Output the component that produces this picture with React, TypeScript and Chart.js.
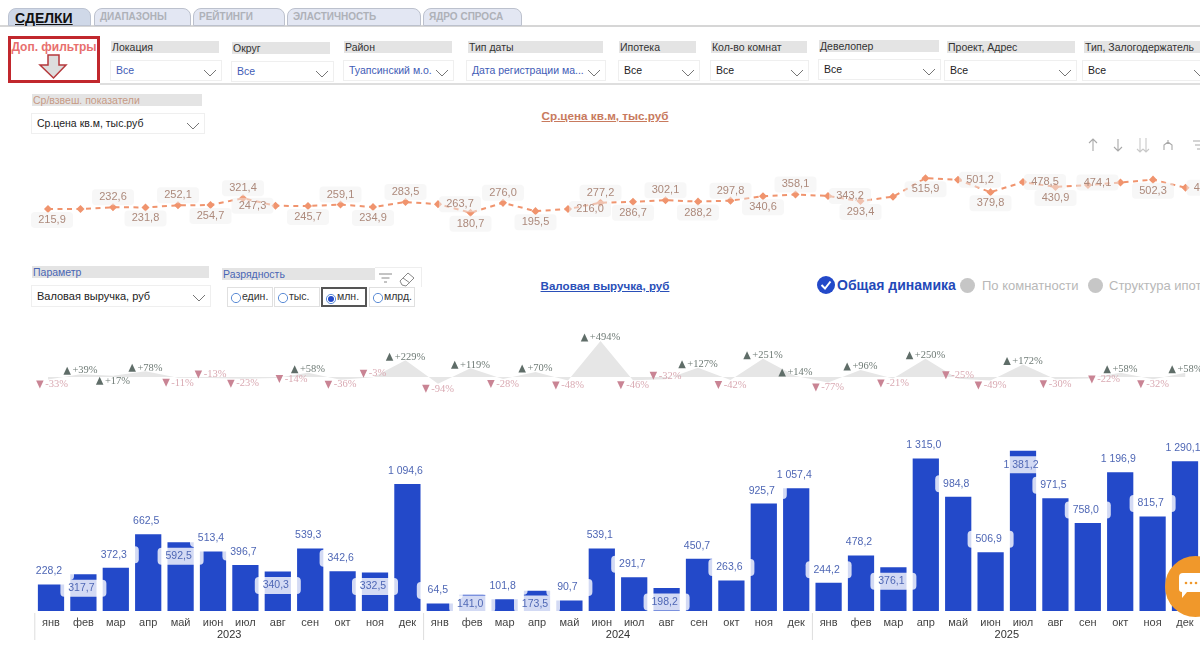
import { useEffect, useRef } from "react";
import type { CSSProperties } from "react";
import Chart from "chart.js/auto";

const months = ["янв", "фев", "мар", "апр", "май", "июн", "июл", "авг", "сен", "окт", "ноя", "дек"];
const years = ["2023", "2024", "2025"];
const categories = years.flatMap(() => months);

// Ср.цена кв.м, тыс.руб
const priceValues = [
  215.9, 217, 232.6, 231.8, 252.1, 254.7, 321.4, 247.3, 245.7, 259.1, 234.9, 283.5,
  263.7, 180.7, 276.0, 195.5, 216.0, 277.2, 286.7, 302.1, 288.2, 297.8, 340.6, 358.1,
  343.2, 293.4, 336.6, 515.9, 501.2, 379.8, 478.5, 430.9, 450, 474.1, 502.3, 424,
];
// where each price label sits; "-" means no label in the picture
const priceLabelSides = [
  "below", "-", "above", "below", "above", "below", "above", "left", "below", "above", "below", "above",
  "right", "below", "above", "below", "right", "above", "below", "above", "below", "above", "below", "above",
  "right", "below", "-", "below", "right", "below", "right", "below", "-", "left", "below", "right",
];

// изменение к прошлому месяцу, %
const changeValues = [
  -33, 39, 17, 78, -11, -13, -23, -14, 58, -36, -3, 229,
  -94, 119, -28, 70, -48, 494, -46, -32, 127, -42, 251, 14,
  -77, 96, -21, 250, -25, -49, 172, -30, -22, 58, -32, 58,
];
const changeLabelsFlipped = [2, 5, 10, 19, 28];
const changeLabelsShifted = [7, 32];

// Валовая выручка, млн руб
const revenueValues = [
  228.2, 317.7, 372.3, 662.5, 592.5, 513.4, 396.7, 340.3, 539.3, 342.6, 332.5, 1094.6,
  64.5, 141.0, 101.8, 173.5, 90.7, 539.1, 291.7, 198.2, 450.7, 263.6, 925.7, 1057.4,
  244.2, 478.2, 376.1, 1315.0, 984.8, 506.9, 1381.2, 971.5, 758.0, 1196.9, 815.7, 1290.1,
];
const revenueLabelsInside = [1, 4, 7, 10, 13, 15, 19, 26, 30];

const tabs = [
  { text: "ДИАПАЗОНЫ", x: 94, w: 97 },
  { text: "РЕЙТИНГИ", x: 193, w: 92 },
  { text: "ЭЛАСТИЧНОСТЬ", x: 287, w: 134 },
  { text: "ЯДРО СПРОСА", x: 423, w: 99 },
];

const filters = [
  { label: "Локация", value: "Все", x: 110, w: 112, lx: 111, lw: 108, y: 60, blue: true },
  { label: "Округ", value: "Все", x: 231, w: 103, lx: 232, lw: 98, y: 61, blue: true },
  { label: "Район", value: "Туапсинский м.о.", x: 343, w: 111, lx: 344, lw: 108, y: 60, blue: true },
  { label: "Тип даты", value: "Дата регистрации ма...", x: 466, w: 140, lx: 468, lw: 135, y: 60, blue: true },
  { label: "Ипотека", value: "Все", x: 618, w: 82, lx: 619, lw: 77, y: 60, blue: false },
  { label: "Кол-во комнат", value: "Все", x: 710, w: 99, lx: 711, lw: 96, y: 60, blue: false },
  { label: "Девелопер", value: "Все", x: 818, w: 123, lx: 819, lw: 120, y: 59, blue: false },
  { label: "Проект, Адрес", value: "Все", x: 944, w: 133, lx: 947, lw: 128, y: 60, blue: false },
  { label: "Тип, Залогодержатель", value: "Все", x: 1082, w: 130, lx: 1084, lw: 125, y: 60, blue: false },
];

const radios = [
  { text: "един.", x: 227, w: 46, on: false },
  { text: "тыс.", x: 274, w: 46, on: false },
  { text: "млн.", x: 321, w: 46, on: true },
  { text: "млрд.", x: 369, w: 46, on: false },
];

const FONT = '"Liberation Sans", Arial, sans-serif';
const BLUE = "#2349c9";
const ORANGE = "#f0946e";

function roundBox(ctx: CanvasRenderingContext2D, x: number, y: number, w: number, h: number, fill: string) {
  ctx.fillStyle = fill;
  ctx.beginPath();
  ctx.roundRect(x - w / 2, y - h / 2, w, h, 4);
  ctx.fill();
}

const priceLabelsPlugin = {
  id: "priceLabels",
  afterDatasetsDraw(chart: any) {
    const { ctx } = chart;
    const points = chart.getDatasetMeta(0).data;
    ctx.save();
    ctx.font = `11px ${FONT}`;
    ctx.textAlign = "center";
    ctx.textBaseline = "middle";
    priceValues.forEach((v, i) => {
      const side = priceLabelSides[i];
      if (side === "-") return;
      const dx = side === "left" ? -23 : side === "right" ? 22 : i === 0 ? 4 : 0;
      const dy = side === "above" ? -10 : side === "below" ? 11 : 0;
      const x = points[i].x + dx;
      const y = points[i].y + dy;
      roundBox(ctx, x, y, 42, 16, "rgba(240,240,240,0.5)");
      ctx.fillStyle = "#ad8a7c";
      ctx.fillText(v.toFixed(1).replace(".", ","), x, y);
    });
    ctx.restore();
  },
};

const changeLabelsPlugin = {
  id: "changeLabels",
  afterDatasetsDraw(chart: any) {
    const { ctx } = chart;
    const points = chart.getDatasetMeta(0).data;
    ctx.save();
    ctx.font = `10.5px "Liberation Serif", serif`;
    ctx.textBaseline = "middle";
    changeValues.forEach((v, i) => {
      const up = v > 0;
      const flipped = changeLabelsFlipped.includes(i);
      const shifted = changeLabelsShifted.includes(i);
      const text = up ? `+${v}%` : `${v}%`;
      const goesUp = up !== flipped;
      const dy = shifted ? 1 : goesUp ? -3.5 : 5;
      const width = ctx.measureText(text).width + 9;
      const x = points[i].x - width / 2 + (shifted ? 16 : i === 0 ? 4 : 0);
      const y = points[i].y + dy;
      ctx.fillStyle = up ? "#5f6d68" : "#c98494";
      ctx.beginPath();
      ctx.moveTo(x, up ? y + 4 : y - 4);
      ctx.lineTo(x + 7.5, up ? y + 4 : y - 4);
      ctx.lineTo(x + 3.75, up ? y - 4 : y + 4);
      ctx.closePath();
      ctx.fill();
      ctx.fillStyle = up ? "#6f7b76" : "#d9a9b2";
      ctx.fillText(text, x + 9, y);
    });
    ctx.restore();
  },
};

const revenueLabelsPlugin = {
  id: "revenueLabels",
  afterDatasetsDraw(chart: any) {
    const { ctx } = chart;
    const bars = chart.getDatasetMeta(0).data;
    const spots = revenueValues.map((v, i) => {
      const inside = revenueLabelsInside.includes(i);
      const y = inside ? Math.min(bars[i].y + 14, bars[i].base - 7) : bars[i].y - 13;
      return { x: bars[i].x, y, v };
    });
    ctx.save();
    spots.forEach((s) => roundBox(ctx, s.x, s.y, 46, 17, "rgba(255,255,255,0.8)"));
    ctx.font = `10.5px ${FONT}`;
    ctx.textAlign = "center";
    ctx.textBaseline = "middle";
    ctx.fillStyle = "#4f67b5";
    spots.forEach((s) => {
      const text = s.v.toFixed(1).replace(".", ",").replace(/^(\d)(\d{3})/, "$1 $2");
      ctx.fillText(text, s.x - 2, s.y);
    });
    ctx.restore();
  },
};

const yearAxisPlugin = {
  id: "yearAxis",
  afterDraw(chart: any) {
    const { ctx } = chart;
    const x = chart.scales.x;
    const band = x.getPixelForTick(1) - x.getPixelForTick(0);
    const bottom = chart.height;
    ctx.save();
    ctx.font = `11px ${FONT}`;
    ctx.textAlign = "center";
    ctx.textBaseline = "middle";
    years.forEach((year, i) => {
      const left = x.getPixelForTick(i * months.length) - band / 2;
      const right = x.getPixelForTick(i * months.length + months.length - 1) + band / 2;
      ctx.strokeStyle = "#dddddd";
      ctx.lineWidth = 1;
      ctx.beginPath();
      ctx.moveTo(left, chart.chartArea.bottom + 2);
      ctx.lineTo(left, bottom - 9);
      ctx.stroke();
      ctx.fillStyle = "#333333";
      ctx.fillText(year, (left + right) / 2, bottom - 14);
    });
    ctx.restore();
  },
};

const hiddenAxes = (min: number, max: number) => ({
  x: { display: false, offset: true },
  y: { display: false, min, max },
});

function Chevron({ x, y }: { x: number; y: number }) {
  return (
    <svg style={{ position: "absolute", left: x, top: y }} width="14" height="8">
      <path d="M1 1 L7 7 L13 1" fill="none" stroke="#666" strokeWidth="0.9" />
    </svg>
  );
}

const abs = (x: number, y: number, w: number, h: number, extra?: CSSProperties): CSSProperties => ({
  position: "absolute",
  left: x,
  top: y,
  width: w,
  height: h,
  boxSizing: "border-box",
  ...extra,
});

function Select({ x, y, w, h, text, color, size = 10.5 }: any) {
  return (
    <>
      <div style={abs(x, y, w, h, { border: "1px solid #efefef", color, fontSize: size, lineHeight: `${h - 2}px`, paddingLeft: 5, whiteSpace: "nowrap" })}>{text}</div>
      <Chevron x={x + w - 19} y={y + h / 2 - 2} />
    </>
  );
}

function LabelBar({ x, y, w, text, color = "#333", h = 12 }: any) {
  return (
    <div style={abs(x, y, w, h, { background: "#e4e4e4", color, fontSize: 10.5, lineHeight: `${h}px`, paddingLeft: 1, whiteSpace: "nowrap", overflow: "hidden" })}>{text}</div>
  );
}

export default function App() {
  const priceRef = useRef<HTMLCanvasElement | null>(null);
  const changeRef = useRef<HTMLCanvasElement | null>(null);
  const revenueRef = useRef<HTMLCanvasElement | null>(null);

  useEffect(() => {
    if (!priceRef.current || !changeRef.current || !revenueRef.current) return;

    const price = new Chart(priceRef.current, {
      type: "line",
      data: {
        labels: categories,
        datasets: [
          {
            data: priceValues,
            borderColor: ORANGE,
            backgroundColor: ORANGE,
            borderWidth: 2,
            borderDash: [5, 4.5],
            pointStyle: "rectRot",
            pointRadius: 2.6,
            tension: 0,
          },
        ],
      },
      options: {
        animation: false,
        responsive: false,
        layout: { padding: { left: 31.75, right: 38.25, top: 19.6, bottom: 18.8 } },
        plugins: { legend: { display: false }, tooltip: { enabled: false } },
        scales: hiddenAxes(0, 600),
      },
      plugins: [priceLabelsPlugin],
    });

    const change = new Chart(changeRef.current, {
      type: "line",
      data: {
        labels: categories,
        datasets: [
          {
            data: changeValues,
            borderWidth: 0,
            backgroundColor: "#e6e6e6",
            fill: "origin",
            pointRadius: 0,
            tension: 0,
          },
        ],
      },
      options: {
        animation: false,
        responsive: false,
        layout: { padding: { left: 31.75, right: 38.25, top: 15.5, bottom: 8.4 } },
        plugins: { legend: { display: false }, tooltip: { enabled: false } },
        scales: hiddenAxes(-200, 500),
      },
      plugins: [changeLabelsPlugin],
    });

    const revenue = new Chart(revenueRef.current, {
      type: "bar",
      data: {
        labels: categories,
        datasets: [
          {
            data: revenueValues,
            backgroundColor: BLUE,
            barPercentage: 0.9,
            categoryPercentage: 0.9,
          },
        ],
      },
      options: {
        animation: false,
        responsive: false,
        layout: { padding: { left: 34.8, right: 38.8, top: 18.6, bottom: 0 } },
        plugins: { legend: { display: false }, tooltip: { enabled: false } },
        scales: {
          x: {
            afterFit: (scale: any) => {
              scale.height = 38;
            },
            grid: { display: false, drawTicks: false },
            border: { display: false },
            ticks: {
              autoSkip: false,
              maxRotation: 0,
              padding: 5,
              color: "#444444",
              font: { family: FONT, size: 11 },
            },
          },
          y: { display: false, min: 0, max: 1400 },
        },
      },
      plugins: [revenueLabelsPlugin, yearAxisPlugin],
    });

    return () => {
      price.destroy();
      change.destroy();
      revenue.destroy();
    };
  }, []);

  return (
    <div style={{ position: "fixed", left: 0, top: 0, width: 1200, height: 649, overflow: "hidden", background: "#fff", fontFamily: FONT }}>
      {/* вкладки */}
      <div style={abs(0, 25, 1200, 2, { background: "#d6d6d6" })} />
      <div style={abs(8, 8, 83, 18, { background: "#cfd8e8", borderRadius: "8px 8px 0 0", border: "1px solid #bcc3d2", color: "#111", fontWeight: 700, fontSize: 14, textDecoration: "underline", paddingLeft: 6, lineHeight: "18px" })}>СДЕЛКИ</div>
      {tabs.map((t) => (
        <div key={t.text} style={abs(t.x, 8, t.w, 18, { background: "#e3e7f3", borderRadius: "8px 8px 0 0", border: "1px solid #bcc1cd", color: "#aeb1b8", fontWeight: 700, fontSize: 10, paddingLeft: 5, lineHeight: "15px" })}>{t.text}</div>
      ))}

      {/* фильтры */}
      <div style={abs(8, 36, 92, 47, { border: "3px solid #c1272d" })} />
      <div style={abs(8, 40, 92, 14, { color: "#e8706e", fontWeight: 700, fontSize: 12, textAlign: "center", lineHeight: "14px", whiteSpace: "nowrap" })}>Доп. фильтры</div>
      <svg style={{ position: "absolute", left: 36, top: 53 }} width="32" height="27">
        <path d="M12 2 H23 V12 H30 L17.5 25 L4 12 H12 Z" fill="#dddddd" stroke="#b5393c" strokeWidth="1.5" />
      </svg>
      <div style={abs(100, 83, 1100, 2, { background: "#dedede" })} />
      {filters.map((f) => (
        <div key={f.label}>
          <LabelBar x={f.lx} y={f.y - 19} w={f.lw} text={f.label} />
          <Select x={f.x} y={f.y} w={f.w} h={21} text={f.value} color={f.blue ? "#3f5cb6" : "#222"} />
        </div>
      ))}

      {/* средневзвешенная цена */}
      <LabelBar x={32} y={94} w={170} text="Ср/взвеш. показатели" color="#c79a85" />
      <Select x={31} y={113} w={174} h={21} text="Ср.цена кв.м, тыс.руб" color="#222" />
      <div style={abs(405, 108, 400, 16, { color: "#c87a5e", fontWeight: 700, fontSize: 11.7, textAlign: "center", textDecoration: "underline", lineHeight: "16px" })}>Ср.цена кв.м, тыс.руб</div>
      <svg style={{ position: "absolute", left: 1080, top: 136 }} width="120" height="20" fill="none" stroke="#a9a9a9" strokeWidth="1.1">
        <path d="M13 15 V3 M9 7 L13 3 L17 7" />
        <path d="M38 3 V15 M34 11 L38 15 L42 11" />
        <path d="M60 2 V16 M57 13 L60 16 L63 13 M66 2 V16 M63 13 L66 16 L69 13" stroke="#c9c9c9" />
        <path d="M88 4 V8 M84 14 V9 L88 6 L92 9 V14" />
        <path d="M113 5 H120 M115 9 H120 M117 13 H120" />
      </svg>

      <canvas ref={priceRef} width={1240} height={100} style={{ position: "absolute", left: 0, top: 150 }} />

      {/* параметр и разрядность */}
      <LabelBar x={32} y={266} w={177} text="Параметр" color="#4a66b4" />
      <Select x={31} y={285} w={180} h={22} text="Валовая выручка, руб" color="#222" size={11} />
      <LabelBar x={222} y={268} w={153} text="Разрядность" color="#4a66b4" />
      <div style={abs(375, 267, 47, 20, { borderTop: "1px solid #eee", borderRight: "1px solid #eee" })} />
      <svg style={{ position: "absolute", left: 378, top: 270 }} width="42" height="18" fill="none" stroke="#888" strokeWidth="1">
        <path d="M1 4 H14 M3.5 8 H11.5 M6 12 H9" />
        <path d="M22 11 L30 3 L36 8 L28 16 L24 15 Z M25 8 L32 13" />
      </svg>
      {radios.map((r) => (
        <div key={r.text} style={abs(r.x, 287, r.w, 20, { border: r.on ? "2px solid #555" : "1.5px solid #e0e0e0", fontSize: 10.5, color: "#333", lineHeight: r.on ? "15px" : "16px", paddingLeft: 14 })}>
          {r.text}
          <svg style={{ position: "absolute", left: 2, top: 4 }} width="12" height="12">
            <circle cx="6" cy="6" r="4.6" fill="#fff" stroke="#4a7fd0" strokeWidth="0.9" />
            {r.on && <circle cx="6" cy="6" r="3" fill={BLUE} />}
          </svg>
        </div>
      ))}
      <div style={abs(405, 278, 400, 16, { color: "#2a4fb8", fontWeight: 700, fontSize: 11.6, textAlign: "center", textDecoration: "underline", lineHeight: "16px" })}>Валовая выручка, руб</div>

      <svg style={{ position: "absolute", left: 817, top: 276 }} width="18" height="18">
        <circle cx="9" cy="9" r="9" fill={BLUE} />
        <path d="M4.5 9 L8 12.5 L13.5 5.5" fill="none" stroke="#fff" strokeWidth="2" />
      </svg>
      <div style={abs(837, 276, 125, 18, { color: "#2349b9", fontWeight: 700, fontSize: 14, lineHeight: "18px", whiteSpace: "nowrap" })}>Общая динамика</div>
      <div style={abs(960, 278, 15, 15, { background: "#c6c6c6", borderRadius: "50%" })} />
      <div style={abs(982, 277, 110, 17, { color: "#b8b8b8", fontSize: 13, lineHeight: "17px", whiteSpace: "nowrap" })}>По комнатности</div>
      <div style={abs(1088, 278, 15, 15, { background: "#c6c6c6", borderRadius: "50%" })} />
      <div style={abs(1109, 277, 130, 17, { color: "#b8b8b8", fontSize: 13, lineHeight: "17px", whiteSpace: "nowrap" })}>Структура ипотеки</div>

      <canvas ref={changeRef} width={1240} height={75} style={{ position: "absolute", left: 0, top: 325 }} />
      <canvas ref={revenueRef} width={1240} height={219} style={{ position: "absolute", left: 0, top: 430 }} />

      {/* кнопка чата */}
      <div style={abs(1165, 556, 61, 61, { background: "#f0982b", borderRadius: "50%" })} />
      <svg style={{ position: "absolute", left: 1178, top: 572 }} width="22" height="30">
        <path d="M5 1 H22 V20 H9 L4 26 V20 Q1 20 1 17 V5 Q1 1 5 1 Z" fill="#fff" />
        <circle cx="8" cy="11" r="1.3" fill="#f0982b" />
        <circle cx="13" cy="11" r="1.3" fill="#f0982b" />
        <circle cx="18" cy="11" r="1.3" fill="#f0982b" />
      </svg>
    </div>
  );
}
